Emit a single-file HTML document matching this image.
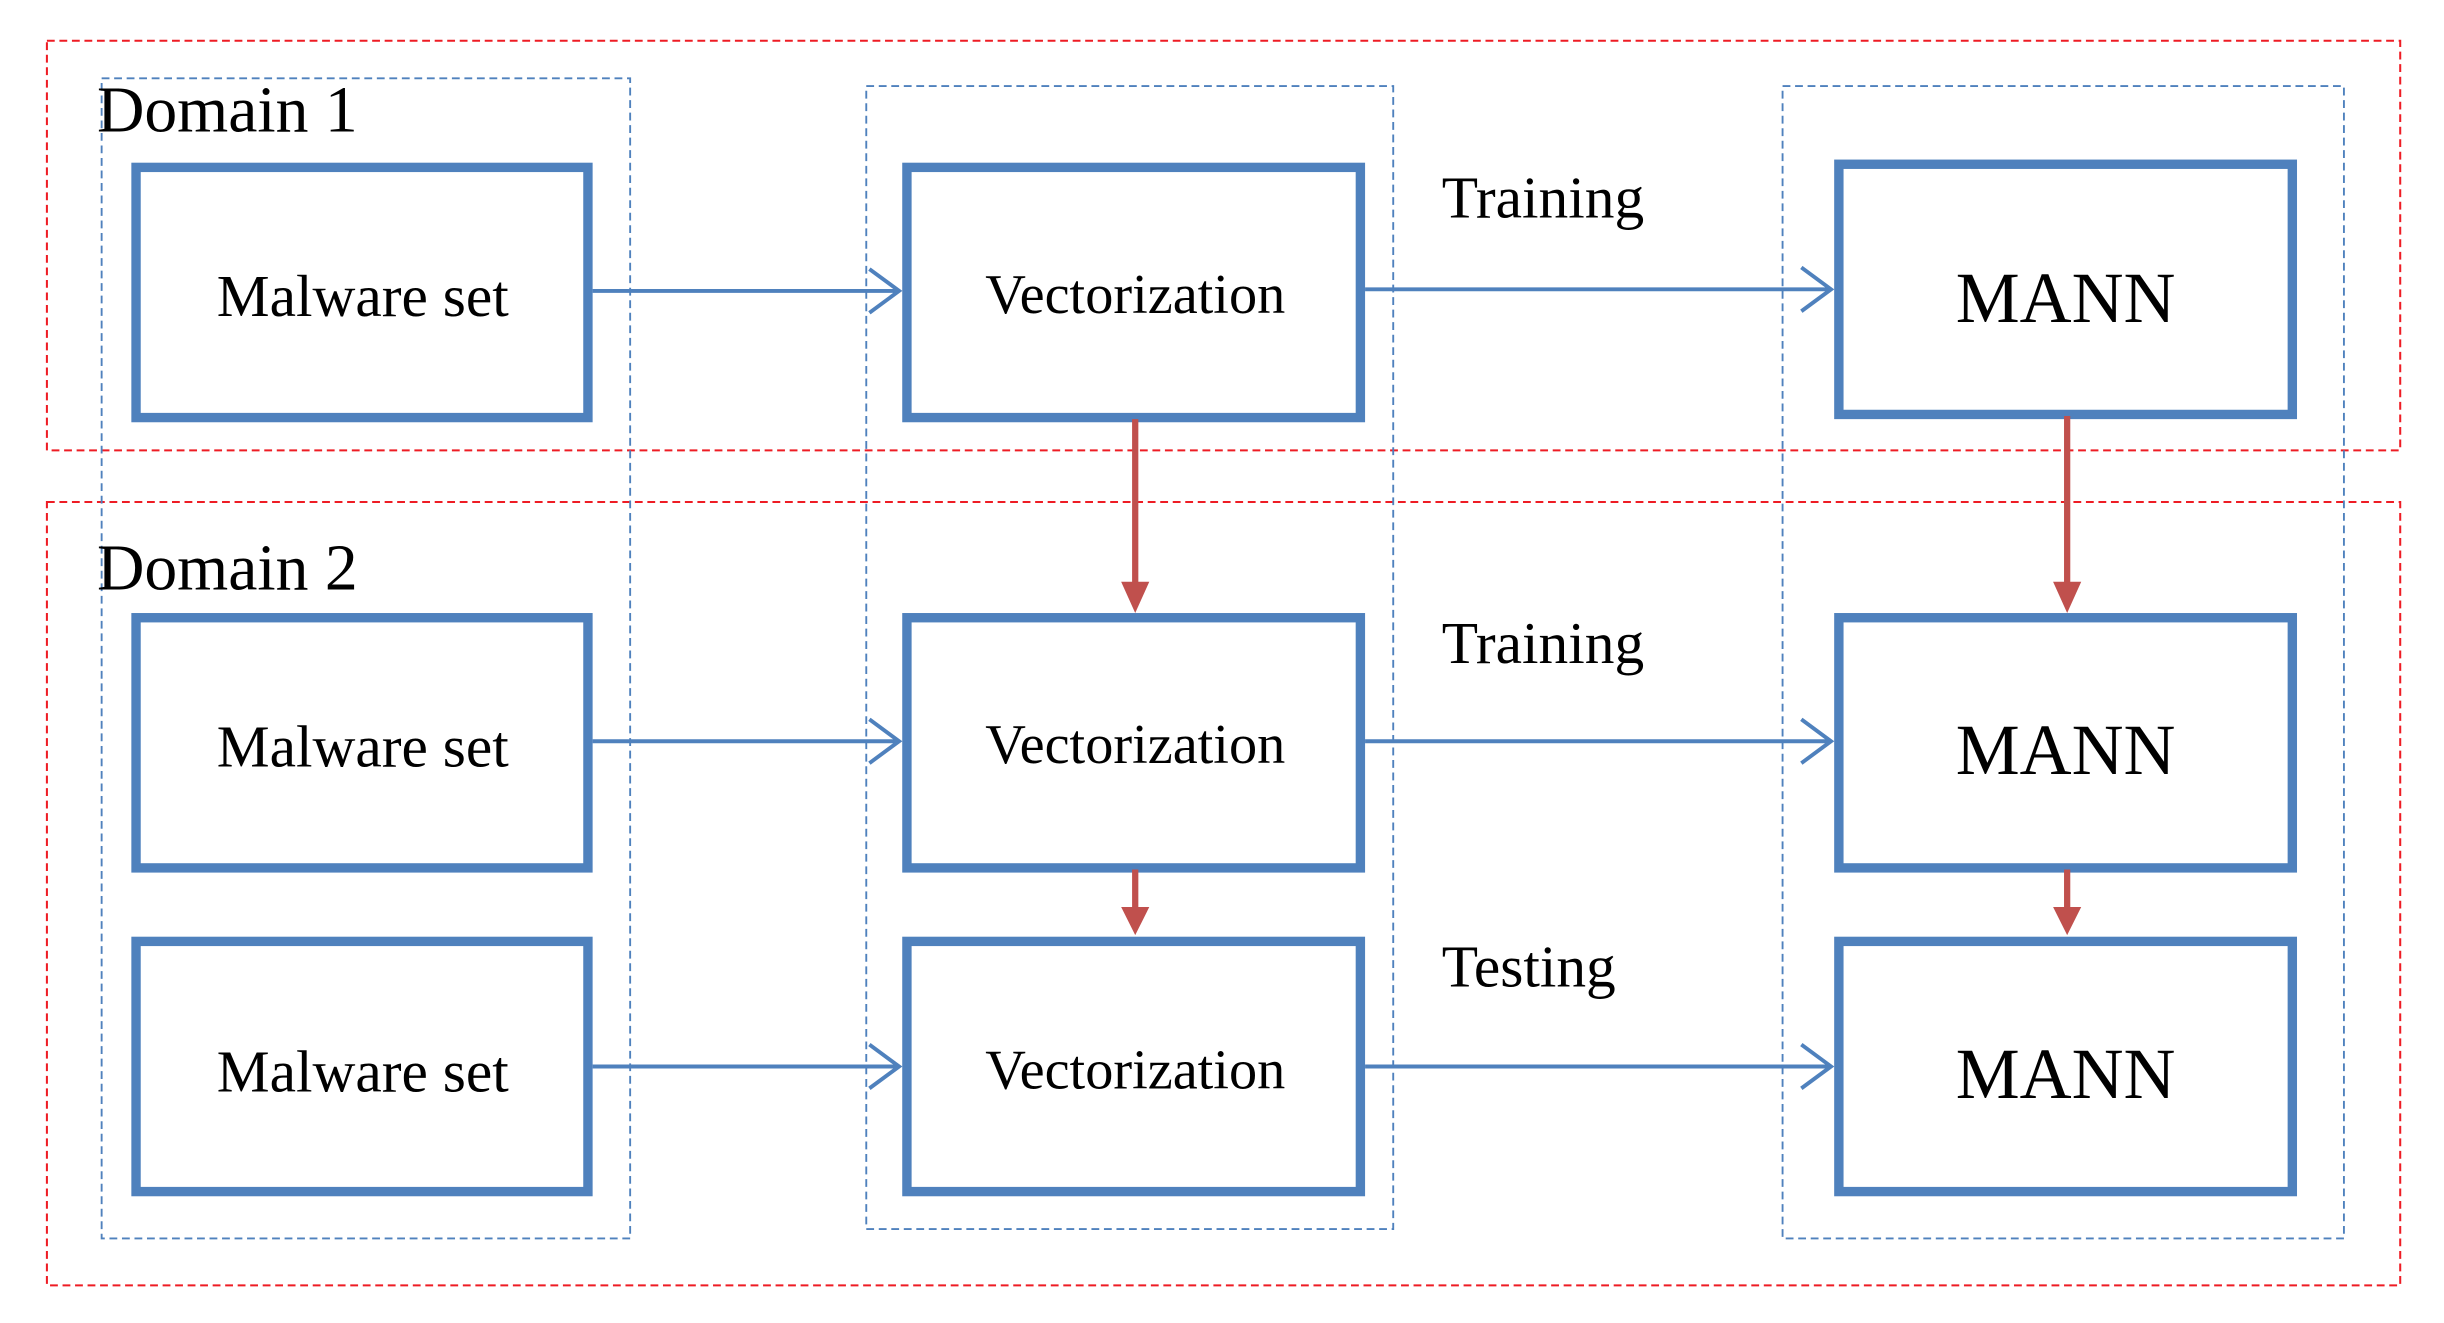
<!DOCTYPE html>
<html><head><meta charset="utf-8"><style>html,body{margin:0;padding:0;background:#fff}svg{display:block}</style></head>
<body>
<svg width="2444" height="1323" viewBox="0 0 1563 846" xmlns="http://www.w3.org/2000/svg" font-family="Liberation Serif, serif">
<defs>
<marker id="ra" markerWidth="6" markerHeight="6" refX="5" refY="3" orient="auto" markerUnits="strokeWidth"><path d="M0,0 L6,3 L0,6 z" fill="#c0504d"/></marker>
</defs>
<g fill="none" stroke="#ee1c24" stroke-width="1.3" stroke-dasharray="5,3">
<rect x="30" y="26" width="1505" height="262"/>
<rect x="30" y="321" width="1505" height="501"/>
</g>
<g fill="none" stroke="#4f81bd" stroke-width="1.2" stroke-dasharray="5,3">
<rect x="65" y="50" width="338" height="742"/>
<rect x="554" y="55" width="337" height="731"/>
<rect x="1140" y="55" width="359" height="737"/>
</g>
<g fill="#fff" stroke="#4f81bd" stroke-width="6">
<rect x="87" y="107" width="289" height="160"/>
<rect x="580" y="107" width="290" height="160"/>
<rect x="1176" y="105" width="290" height="160"/>
<rect x="87" y="395" width="289" height="160"/>
<rect x="580" y="395" width="290" height="160"/>
<rect x="1176" y="395" width="290" height="160"/>
<rect x="87" y="602" width="289" height="160"/>
<rect x="580" y="602" width="290" height="160"/>
<rect x="1176" y="602" width="290" height="160"/>
</g>
<g fill="none" stroke="#4f81bd" stroke-width="2.5">
<path d="M379 186 H575 M556 172 L575 186 L556 200"/>
<path d="M873 185 H1171 M1152 171 L1171 185 L1152 199"/>
<path d="M379 474 H575 M556 460 L575 474 L556 488"/>
<path d="M873 474 H1171 M1152 460 L1171 474 L1152 488"/>
<path d="M379 682 H575 M556 668 L575 682 L556 696"/>
<path d="M873 682 H1171 M1152 668 L1171 682 L1152 696"/>
</g>
<g stroke="#c0504d" stroke-width="4" fill="#c0504d">
<line x1="726" y1="268" x2="726" y2="374"/><path d="M717 372 L735 372 L726 392 z" stroke="none"/>
<line x1="1322" y1="266" x2="1322" y2="374"/><path d="M1313 372 L1331 372 L1322 392 z" stroke="none"/>
<line x1="726" y1="556" x2="726" y2="582"/><path d="M717 580 L735 580 L726 598 z" stroke="none"/>
<line x1="1322" y1="556" x2="1322" y2="582"/><path d="M1313 580 L1331 580 L1322 598 z" stroke="none"/>
</g>
<g fill="#000">
<text x="62" y="84" font-size="42">Domain 1</text>
<text x="62" y="377" font-size="42">Domain 2</text>
<text x="922" y="139" font-size="38">Training</text>
<text x="922" y="424" font-size="38">Training</text>
<text x="922" y="631" font-size="38">Testing</text>
<g text-anchor="middle" font-size="38">
<text x="232" y="202">Malware set</text>
<text x="232" y="490">Malware set</text>
<text x="232" y="698">Malware set</text>
<text x="726" y="200" font-size="36">Vectorization</text>
<text x="726" y="488" font-size="36">Vectorization</text>
<text x="726" y="696" font-size="36">Vectorization</text>
<text x="1321" y="206" font-size="46">MANN</text>
<text x="1321" y="495" font-size="46">MANN</text>
<text x="1321" y="702" font-size="46">MANN</text>
</g>
</g>
</svg>
</body></html>
